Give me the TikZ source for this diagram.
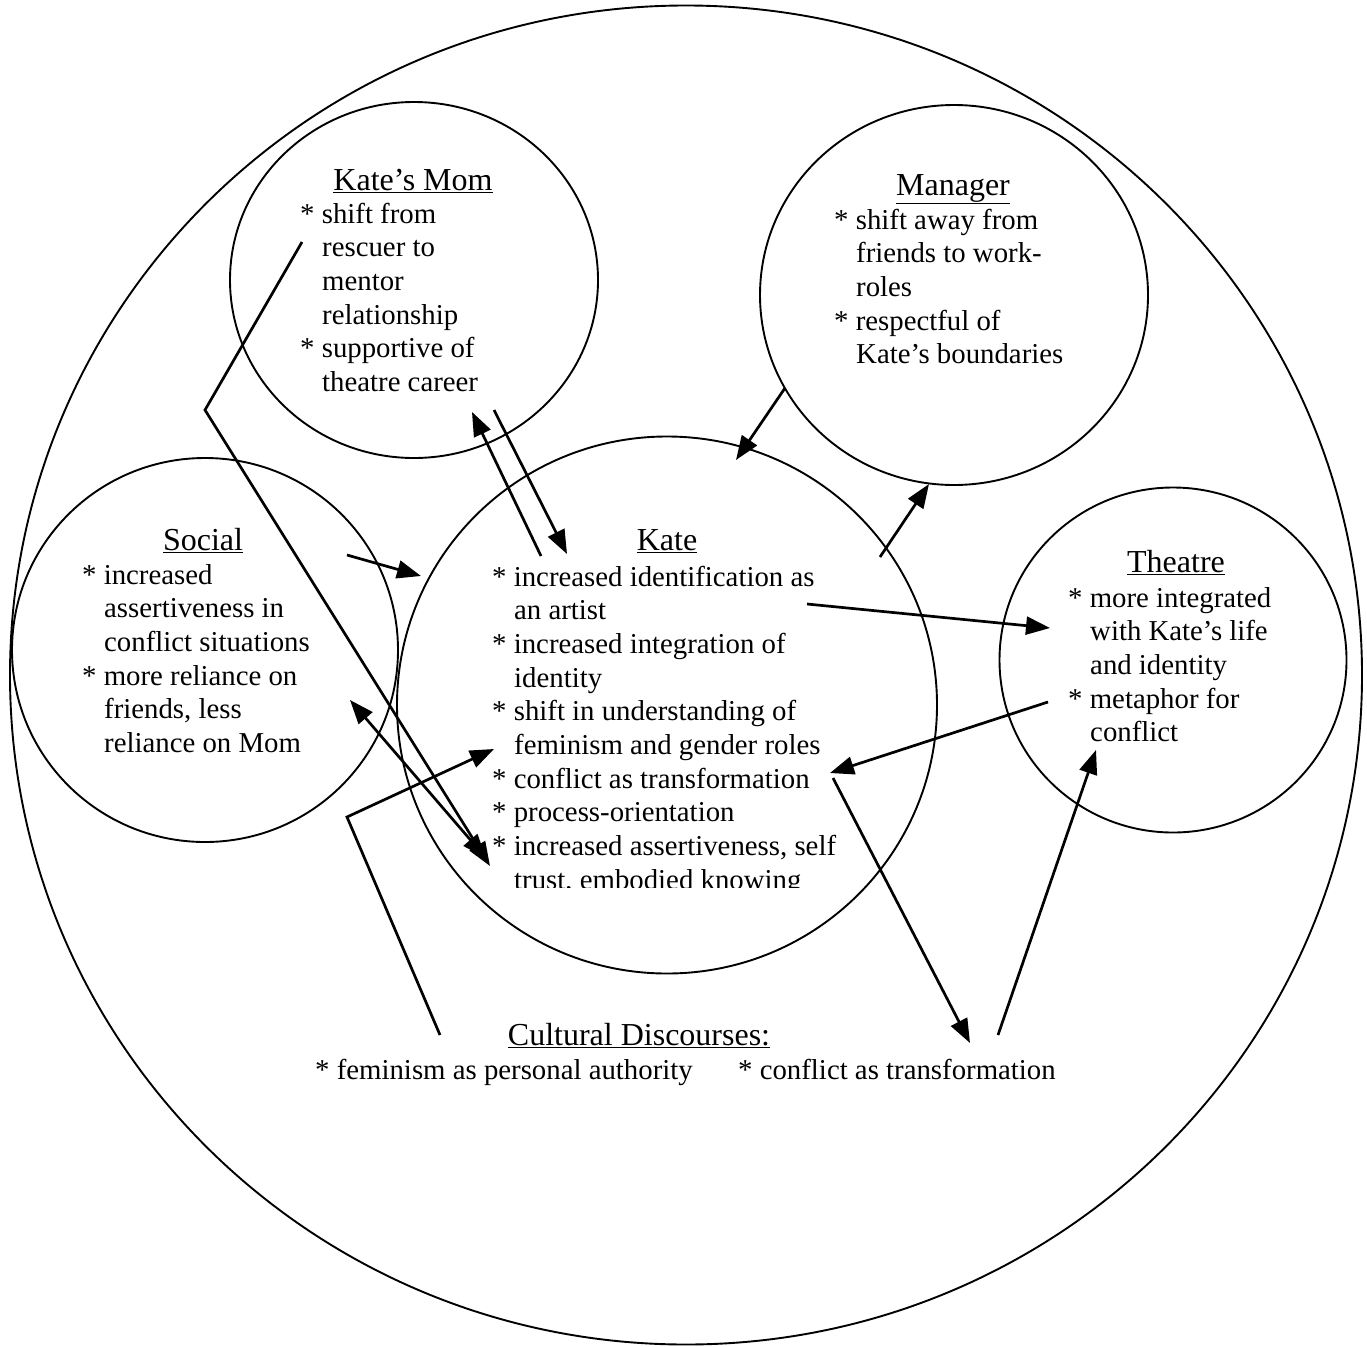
\documentclass[tikz,border=0pt]{standalone}
\usepackage{fontspec}
\setmainfont{Liberation Serif}
\usetikzlibrary{arrows.meta,shapes.geometric}
\newcommand{\indline}{\hspace*{22pt}}
\begin{document}
\begin{tikzpicture}[x=1pt,y=-1pt,
  ring/.style={draw, ellipse, line width=1.9pt, inner sep=0pt},
  link/.style={line width=2.7pt, line join=miter, -{Triangle[length=24pt,width=18pt]}},
  both/.style={line width=2.7pt, {Triangle[length=24pt,width=18pt]}-{Triangle[length=24pt,width=18pt]}},
  txt/.style={inner sep=0pt, font=\fontsize{28.8}{33.7}\selectfont},
  title/.style={inner sep=0pt, anchor=base, font=\fontsize{32}{36}\selectfont},
  % lists are placed by the baseline of their last line
  items/.style={txt, anchor=base west, align=left}]
\useasboundingbox (0,0) rectangle (1367,1346);

% circles
\node[ring, minimum width=1352pt, minimum height=1339pt] (world) at (686,675) {};
\node[ring, minimum width=368pt, minimum height=356pt] (mom) at (414,280) {};
\node[ring, minimum width=388pt, minimum height=380pt] (manager) at (954,295) {};
\node[ring, minimum width=386pt, minimum height=384pt] (social) at (205,650) {};
\node[ring, minimum width=540pt, minimum height=537pt] (kate) at (667,705) {};
\node[ring, minimum width=347pt, minimum height=345pt] (theatre) at (1173,660) {};

% Kate's Mom
\node[title] (momT) at (413,190) {\underline{Kate’s Mom}};
\node[items] (momL) at (300,391.5) {* shift from\\ \indline rescuer to\\ \indline mentor\\ \indline relationship\\ * supportive of\\ \indline theatre career};

% Manager
\node[title] (manT) at (953,195) {\underline{Manager}};
\node[items] (manL) at (834,363.8) {* shift away from\\ \indline friends to work-\\ \indline roles\\ * respectful of\\ \indline Kate’s boundaries};

% Social
\node[title] (socT) at (203,550) {\underline{Social}};
\node[items] (socL) at (82,752.5) {* increased\\ \indline assertiveness in\\ \indline conflict situations\\ * more reliance on\\ \indline friends, less\\ \indline reliance on Mom};

% Kate
\node[title] (kateT) at (667,550) {\underline{Kate}};
\node[items] (kateL) at (492,855.6) {* increased identification as\\ \indline an artist\\ * increased integration of\\ \indline identity\\ * shift in understanding of\\ \indline feminism and gender roles\\ * conflict as transformation\\ * process-orientation\\ * increased assertiveness, self};
\begin{scope}
  \clip (480,860) rectangle (900,887);
  \node[items] (kateLast) at (514,889.3) {trust, embodied knowing};
\end{scope}

% Theatre
\node[title] (thT) at (1176,572) {\underline{Theatre}};
\node[items] (thL) at (1068,741.8) {* more integrated\\ \indline with Kate’s life\\ \indline and identity\\ * metaphor for\\ \indline conflict};

% Cultural discourses
\node[title] (culT) at (639,1045) {\underline{Cultural Discourses:}};
\node[items] (culA) at (315,1079) {* feminism as personal authority};
\node[items] (culB) at (738,1079) {* conflict as transformation};

% connector end points
\coordinate (a1s) at (302,242); \coordinate (a1b) at (205,410); \coordinate (a1e) at (490,866);
\coordinate (a2s) at (350,700); \coordinate (a2e) at (486,858);
\coordinate (a3s) at (440,1035); \coordinate (a3b) at (347,817); \coordinate (a3e) at (494,749);
\coordinate (a4s) at (541,556); \coordinate (a4e) at (472,412);
\coordinate (a5s) at (494,410); \coordinate (a5e) at (567,554);
\coordinate (a6s) at (347,555); \coordinate (a6e) at (421,576);
\coordinate (a7s) at (785,388); \coordinate (a7e) at (736,460);
\coordinate (a8s) at (880,557); \coordinate (a8e) at (929,484);
\coordinate (a9s) at (807,604); \coordinate (a9e) at (1050,628);
\coordinate (a10s) at (1048,702); \coordinate (a10e) at (830,773);
\coordinate (a11s) at (833,778); \coordinate (a11e) at (970,1043);
\coordinate (a12s) at (998,1035); \coordinate (a12e) at (1096,750);

% connectors
\draw[link] (a1s) -- (a1b) -- (a1e);
\draw[both] (a2s) -- (a2e);
\draw[link] (a3s) -- (a3b) -- (a3e);
\draw[link] (a4s) -- (a4e);
\draw[link] (a5s) -- (a5e);
\draw[link] (a6s) -- (a6e);
\draw[link] (a7s) -- (a7e);
\draw[link] (a8s) -- (a8e);
\draw[link] (a9s) -- (a9e);
\draw[link] (a10s) -- (a10e);
\draw[link] (a11s) -- (a11e);
\draw[link] (a12s) -- (a12e);
\end{tikzpicture}
\end{document}
